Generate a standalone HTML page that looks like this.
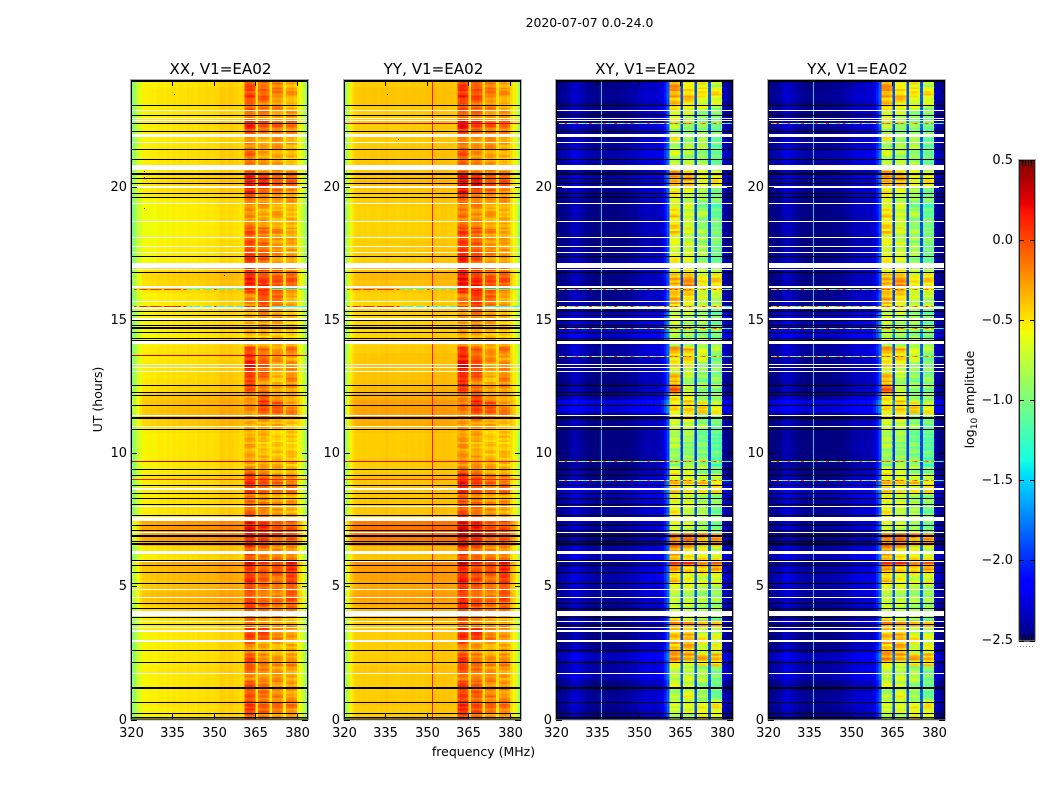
<!DOCTYPE html>
<html>
<head>
<meta charset="utf-8">
<title>2020-07-07 amplitude waterfall</title>
<style>
html,body{margin:0;padding:0;background:#fff;}
body{width:1050px;height:800px;overflow:hidden;position:relative;}
svg{position:absolute;left:0;top:0;}
text{font-family:"DejaVu Sans","Liberation Sans",sans-serif;fill:#000;}
</style>
</head>
<body>
<svg id="fig" width="1050" height="800" viewBox="0 0 1050 800">
<rect x="0" y="0" width="1050" height="800" fill="#fff"/>
<text x="589.5" y="27" font-size="12.4" text-anchor="middle">2020-07-07 0.0-24.0</text>
<text x="483.5" y="756" font-size="12.5" text-anchor="middle">frequency (MHz)</text>
<text x="0" y="0" font-size="12.5" text-anchor="middle" transform="translate(102,399.5) rotate(-90)">UT (hours)</text>
<text x="0" y="0" font-size="12.5" text-anchor="middle" transform="translate(974,399.5) rotate(-90)">log<tspan font-size="9" dy="3">10</tspan><tspan dy="-3"> amplitude</tspan></text>
<g id="panels"></g>
<g id="cbar"></g>
</svg>
<script>
// ---- axis data ----
var xTicks = [320, 335, 350, 365, 380];
var yTicks = [0, 5, 10, 15, 20];
var cbarTicks = [-2.5, -2.0, -1.5, -1.0, -0.5, 0.0, 0.5];
var panelTitles = ['XX, V1=EA02', 'YY, V1=EA02', 'XY, V1=EA02', 'YX, V1=EA02'];

// ---- channel profiles: log10 amplitude, 320..383 MHz, 1 MHz per channel ----
var profileXX = [-.98,-.85,-.72,-.62,-.56,-.55,-.55,-.54,-.55,-.53,-.52,-.52,-.53,-.51,-.52,-.5,-.52,-.5,-.5,-.51,-.49,-.5,-.49,-.51,-.48,-.49,-.49,-.47,-.48,-.48,-.47,-.47,-.43,-.43,-.45,-.43,-.43,-.45,-.45,-.47,-.47,-.02,.02,.02,-.04,-.5,-.02,.02,.02,-.04,-.5,-.02,.02,.02,-.04,-.52,-.02,.02,.02,-.04,-.55,-.62,-.76,-.92];
var profileYY = [-.92,-.72,-.55,-.47,-.43,-.43,-.43,-.42,-.43,-.42,-.42,-.42,-.43,-.42,-.42,-.4,-.43,-.42,-.42,-.43,-.42,-.42,-.41,-.42,-.41,-.41,-.42,-.41,-.42,-.41,-.4,-.4,-.39,-.39,-.4,-.39,-.39,-.4,-.4,-.41,-.42,-.02,.02,.02,-.04,-.48,-.02,.02,.02,-.04,-.48,-.02,.02,.02,-.04,-.49,-.02,.02,.02,-.04,-.47,-.55,-.68,-.9];
var profileXY = [-2.45,-2.45,-2.42,-2.42,-2.38,-2.32,-2.28,-2.28,-2.32,-2.35,-2.38,-2.42,-2.42,-2.44,-2.45,-2.45,-2.45,-2.45,-2.45,-2.44,-2.44,-2.44,-2.44,-2.42,-2.42,-2.42,-2.4,-2.38,-2.38,-2.36,-2.32,-2.3,-2.3,-2.28,-2.28,-2.3,-2.28,-2.28,-2.2,-2.05,-1.85,0,.02,.02,-.05,-1.9,0,.02,.02,-.05,-1.9,0,.02,.02,-.05,-1.85,0,.02,.02,-.05,-2.3,-2.38,-2.42,-2.45];
var bandFirst = [361, 366, 371, 376];
var bandLast = [364, 369, 374, 379];

// ---- per-row values, hundredths of a dex, 0.25 h rows from 0 h upward ----
var levelXX = [0,0,2,0,0,0,0,2, 0,0,0,0,0,0,2,2, 8,14,16,14,12,14,16,20, 2,4,22,24,26,24,2,2, 2,2,2,2,2,0,0,0, 0,0,0,2,10,14,14,14, 12,6,4,3,2,2,2,2, 0,-2,0,0,0,0,0,0, 4,6,8,6,-2,-2,-2,-2, -4,-4,-4,-3,-3,-2,0,4, 6,4,2,2,2,2,0,0, 0,2,0,0,2,2,2,0];
var band1XX = [8,14,16,10,12,6,-5,4, 8,6,-12,2,15,14,-10,-4, 12,18,8,14,20,14,20,32, 8,5,26,28,30,24,8,-2, 6,-6,15,22,18,-8,-14,-18, -22,-22,-18,-16,-20,-15,-10,-12, -12,8,20,16,24,28,22,12, -22,-28,-18,-24,-22,-20,-12,-14, 14,22,25,22,6,16,14,10, 2,6,-4,-8,-12,-8,6,20, 26,22,4,-2,2,-4,-6,-8, 14,20,-2,8,2,16,10,6];
var band2XX = [-2,6,10,0,4,-2,-10,-4, 2,-6,-18,-12,14,16,-14,-10, 4,8,2,2,6,8,10,14, 2,2,18,20,24,18,4,-4, -2,-12,8,12,8,-12,-16,-20, -22,-24,-18,-20,-18,-6,16,20, 10,-2,-8,6,10,12,2,2, -20,-22,-14,-10,-8,-6,14,12, 20,22,18,10,-2,8,6,4, -2,8,-10,-14,-18,-10,-4,8, 34,22,-6,-10,-14,-14,-16,-12, 2,16,-8,2,-4,6,10,2];
var band3XX = [-14,-2,2,-4,-8,-10,-14,-14, -10,-14,-22,-18,-6,-4,-18,-16, -2,2,-2,0,4,2,8,10, -4,-8,6,8,14,10,-10,-14, -8,-20,-2,4,-4,-20,-24,-26, -28,-28,-26,-28,-20,-8,6,6, -12,-18,-22,-22,-16,-14,-14,-14, -26,-24,-18,-18,-12,-14,-2,4, 8,10,8,2,-14,-12,-12,-14, -16,-6,-18,-18,-20,-14,-14,0, 14,8,-10,-14,-16,-16,-14,-12, -6,8,-12,-8,-14,-6,-2,-8];
var band4XX = [-18,-8,-4,-10,-12,-14,-16,-18, -8,-12,-22,-18,-10,-10,-20,-18, 0,2,6,8,18,16,22,26, -8,-10,2,8,14,8,-12,-16, -10,-20,-4,2,-8,-20,-24,-26, -30,-30,-28,-28,-24,-14,-6,-12, -18,-16,-12,-4,-8,-10,-16,0, -32,-30,-28,-26,-22,-22,-18,-14, -8,6,4,-4,-20,-14,-16,-18, -22,-16,-24,-20,-22,-16,-18,-4, 10,6,-14,-20,-22,-22,-18,-16, -10,4,-16,-14,-22,-16,-14,-16];
var bandOffsetXX = [-12, -16, -14, -14];
var bandOffsetYY = [-6, -10, -12, -12];
var levelYY = [0,0,2,0,0,0,0,2, 0,0,0,0,0,0,2,2, 8,12,14,12,12,14,16,20, 2,4,24,26,28,26,2,2, 2,2,2,2,2,0,0,0, 0,0,0,2,10,14,14,14, 10,6,4,3,2,2,2,0, -2,-2,-2,-2,-2,-2,-2,-2, 2,4,6,4,0,0,0,0, -2,-2,-2,-2,-2,0,0,2, 6,2,2,2,2,2,0,0, 0,0,0,0,2,2,2,0];
var levelXY = [-4,-2,2,0,-4,-4,6,4, 2,10,-2,-6,-6,-6,-2,-4, -4,2,0,2,4,6,2,-2, 6,2,-4,-2,2,-2,6,0, 0,4,14,10,-4,-6,-10,-10, -8,-8,-10,-8,-4,-8,16,18, 2,-4,-6,-4,-4,-4,0,2, 0,14,16,10,12,-2,-4,-2, -8,-6,-4,-6,0,-2,-6,-8, -8,-4,-6,-6,-4,-6,-4,0, 0,8,-4,2,6,4,0,-4, -2,2,-6,-2,-4,0,-2,-4];
var band1XY = [-85,-75,-70,-75,-80,-70,-70,-75, -55,-30,-30,-38,-38,-45,-25,-65, -70,-75,-78,-65,-45,-55,-25,5, -35,-30,-10,-8,-75,-70,-62,-60, -60,-65,-45,-40,-55,-70,-90,-92, -90,-85,-78,-72,-72,-60,-52,-55, -50,-10,-30,-35,-65,-50,-45,-30, -85,-80,-80,-75,-70,-72,-45,-40, -40,-40,-35,-60,-65,-65,-65,-65, -65,-50,-45,-45,-55,-60,-60,-60, -35,-32,-30,-75,-78,-75,-78,-45, -88,-85,-60,-55,-40,-35,-30,-35];
var band2XY = [-85,-70,-70,-60,-75,-80,-70,-80, -65,-30,-40,-30,-35,-60,-25,-70, -80,-78,-80,-72,-65,-65,-45,-5, -50,-45,-15,-15,-80,-80,-70,-75, -70,-72,-55,-50,-65,-80,-90,-92, -95,-90,-85,-85,-75,-60,-40,-45, -60,-78,-80,-80,-70,-60,-50,-40, -90,-85,-85,-80,-80,-78,-60,-50, -40,-25,-30,-55,-72,-72,-72,-72, -80,-60,-70,-72,-75,-78,-72,-62, -35,-28,-50,-78,-85,-85,-85,-85, -95,-90,-80,-70,-55,-45,-45,-55];
var band3XY = [-55,-60,-70,-85,-85,-90,-85,-90, -60,-35,-70,-60,-60,-75,-35,-80, -85,-85,-85,-80,-60,-70,-50,-25, -55,-60,-30,-25,-85,-85,-80,-85, -82,-85,-55,-45,-70,-90,-100,-100, -100,-100,-100,-100,-95,-90,-45,-60, -90,-95,-95,-90,-90,-85,-80,-70, -95,-90,-90,-90,-85,-85,-80,-70, -70,-55,-60,-75,-88,-90,-90,-90, -90,-85,-90,-90,-90,-95,-90,-85, -60,-55,-70,-85,-90,-90,-90,-90, -95,-95,-90,-85,-70,-50,-55,-60];
var band4XY = [-70,-60,-65,-100,-100,-105,-95,-100, -55,-35,-65,-60,-60,-80,-40,-90, -90,-95,-95,-90,-55,-70,-35,-15, -65,-75,-35,-30,-100,-100,-95,-100, -95,-95,-60,-50,-70,-100,-115,-115, -115,-110,-115,-110,-100,-90,-60,-70, -90,-100,-95,-90,-95,-100,-100,-80, -105,-100,-100,-100,-100,-100,-85,-70, -65,-50,-55,-80,-105,-105,-105,-105, -105,-95,-105,-105,-105,-110,-105,-95, -55,-50,-80,-100,-105,-105,-105,-105, -110,-105,-105,-95,-65,-55,-60,-70];
// fine horizontal streaks seen inside the four bands, hundredths of a dex
var bandStreak = [6,-8,3,-5,9,-3,1,-10,7,-2,5,-7,10,-4,-9,4,-1,8,-6,2,-11,6,3,-4,9,-8,0,5,-6,11,-3,-7,4,-1,8,-10,2,6,-5,-2,9,-9,3,7,-6,1,-4,10];

// ---- flagged integrations: hour and duration ----
var blackHours = [23.97,23.05,22.67,22.37,22.07,21.39,21.02,20.47,20.31,20.12,19.74,19.59,17.38,16.78,15.32,15.17,14.96,14.79,14.69,14.54,14.29,14.24,12.54,12.28,12.16,11.79,11.42,11.32,10.89,9.39,9.16,8.79,8.49,8.3,8.06,7.65,7.29,7.08,6.92,6.85,6.67,6.58,5.95,5.76,5.5,5.12,4.37,4.18,3.81,3.58,2.57,2.12,1.18,.62,.21,.06];
var blackSpans = [.07,.04,.04,.04,.04,.04,.04,.08,.04,.04,.04,.04,.04,.04,.04,.04,.04,.04,.06,.04,.04,.04,.04,.04,.04,.04,.04,.07,.04,.04,.04,.04,.04,.04,.04,.04,.04,.04,.04,.04,.04,.08,.04,.04,.04,.04,.04,.04,.04,.04,.04,.04,.08,.04,.04,.04];
var whiteHours = [22.86,22.57,22.49,21.9,21.66,20.73,19.99,19.37,18.69,18.09,17.75,17.53,17.02,16.87,16.23,15.68,15.45,15.06,15.02,14.15,13.33,13.21,13.06,11.39,10.99,8.64,8,7.51,7,6.25,5.91,4.86,4.56,3.96,3.66,3.47,3.32,2.98,2.91,1.74];
var whiteSpans = [.04,.04,.04,.11,.04,.19,.07,.04,.04,.04,.04,.04,.19,.04,.07,.04,.07,.04,.04,.11,.04,.04,.04,.04,.05,.07,.05,.15,.04,.11,.04,.04,.04,.19,.04,.04,.07,.04,.04,.04];

// ---- narrow spectral and temporal interference ----
var lineFreqYY = 351.9;
var lineValueYY = 0.15;
var lineFreqCross = 336.1;
var lineValueCross = -1.5;
var spikeHoursXX = [9.7, 9.0, 13.66];
var spikeValuesXX = [.3, .15, .3];
var spikeHoursYY = [22.37, 9.7, 9.0];
var spikeValuesYY = [.3, .2, .15];
var mixedHoursCo = [15.5, 16.15];
var mixedValuesCo = [.1,.12,-.4,.1,.15,.05,-.2,.1,.12,.1,.05,-.3,.12,.1,.05,.1,.12,.1,-.4,.1,-1.3,-1.35,-.9,-1.3,-1.35,-.6,-1.3,-1.35,-1.3,-.9,.1,-1.3,-1.35,-1.3,-1.0,-1.35,-1.3,-.5,-1.3,-1.35,-1.3,.1,.1,0,.1,-.7,.1,0,.1,.1,-1.0,-1.3,-1.35,-1.3,-1.3,-1.35,-1.3,-1.35,-1.3,-1.3,-1.0,-1.3,-1.35,-1.3];
var spikeHoursCross = [22.37, 16.15, 15.5, 14.7, 13.66, 9.7, 9.0];
var spikeValuesCross = [-.9,-.3,-.7,.1,-.8,-1.3,-.4,0,-1,-.5,-1.4,-.8,.05,-.6,-1.2,-.3,-1,-.1,-.8,-1.4,-.5,.1,-1.1,-.7,-1.3,-.2,-.9,.1,-1.2,-.6,-1.4,-.4,-.9,0,-.7,-1.2,-.3,-1,-.6,.05,-.8,0,-.2,.1,-.3,-.9,.1,-.2,.05,-.4,-1,-.5,-.3,.05,-.6,-1,-.3,.05,-.5,-.2,-.9,-1.3,-1.1,-1.5];
var dotFreqs = [335.5, 324.8, 324.8, 324.8, 324.8, 353.6, 339.6, 339.6, 335.6];
var dotHours = [23.46, 20.58, 20.37, 20.12, 19.2, 16.67, 21.8, 21.4, 23.46];
var dotPanels = [0, 0, 0, 0, 0, 0, 1, 1, 1];

// ---- figure scales ----
var panelLefts = [131, 344, 556, 768];
var panelWidth = 177;
var plotTop = 80;
var plotBottom = 719.5;
var freqMin = 320, freqMax = 384, hourMax = 24;
var vMin = -2.5, vMax = 0.5;
var SVGNS = 'http://www.w3.org/2000/svg';

function xScale(left, f) { return left + (f - freqMin) / (freqMax - freqMin) * panelWidth; }
function yScale(h) { return plotBottom - h / hourMax * (plotBottom - plotTop); }

function interp(pts, t) {
  for (var i = 1; i < pts.length; i++) {
    if (t <= pts[i][0]) {
      var a = pts[i - 1], b = pts[i];
      return a[1] + (b[1] - a[1]) * (t - a[0]) / (b[0] - a[0]);
    }
  }
  return pts[pts.length - 1][1];
}
var rPts = [[0,0],[.35,0],[.66,1],[.89,1],[1,.5]];
var gPts = [[0,0],[.125,0],[.375,1],[.64,1],[.91,0],[1,0]];
var bPts = [[0,.5],[.11,1],[.34,1],[.65,0],[1,0]];
function jet(v) {
  var t = Math.max(0, Math.min(1, (v - vMin) / (vMax - vMin)));
  return 'rgb(' + Math.round(255 * interp(rPts, t)) + ',' + Math.round(255 * interp(gPts, t)) + ',' + Math.round(255 * interp(bPts, t)) + ')';
}
function mk(tag, parent) {
  var e = document.createElementNS(SVGNS, tag);
  parent.appendChild(e);
  return e;
}
function box(parent, x, y, w, h, fill) {
  var r = mk('rect', parent);
  r.setAttribute('x', x);
  r.setAttribute('y', y);
  r.setAttribute('width', w);
  r.setAttribute('height', h);
  r.setAttribute('fill', fill);
  r.setAttribute('shape-rendering', 'crispEdges');
  return r;
}
function label(parent, x, y, str, size, anchor) {
  var t = mk('text', parent);
  t.setAttribute('x', x);
  t.setAttribute('y', y);
  t.setAttribute('font-size', size);
  t.setAttribute('text-anchor', anchor);
  t.textContent = str;
  return t;
}

var bandsXX = [band1XX, band2XX, band3XX, band4XX];
var bandsXY = [band1XY, band2XY, band3XY, band4XY];
function bandIndex(freq) {
  for (var k = 0; k < bandFirst.length; k++) {
    if (freq >= bandFirst[k] && freq <= bandLast[k]) return k;
  }
  return -1;
}
function cellValue(p, ch, row) {
  var k = bandIndex(freqMin + ch);
  if (p === 0) return k >= 0 ? (bandsXX[k][row] + bandOffsetXX[k]) / 100 + profileXX[ch] : profileXX[ch] + levelXX[row] / 100;
  if (p === 1) return k >= 0 ? (bandsXX[k][row] + bandOffsetYY[k]) / 100 + profileYY[ch] : profileYY[ch] + levelYY[row] / 100;
  return k >= 0 ? bandsXY[k][row] / 100 + profileXY[ch] : profileXY[ch] + levelXY[row] / 100;
}

var panelsG = document.getElementById('panels');
var rowCount = levelXX.length;
var rowSpan = hourMax / rowCount;
var subRows = 3;

function hLine(parent, left, hour, span, fill) {
  var y0 = Math.round(yScale(hour + span / 2));
  var hgt = Math.max(1, Math.round(span * (plotBottom - plotTop) / hourMax));
  return box(parent, left + 1, y0, panelWidth - 1, hgt, fill);
}

panelLefts.forEach(function (left, p) {
  var g = mk('g', panelsG);
  
  

  // heatmap cells
  for (var row = 0; row < rowCount; row++) {
    var yA = Math.round(yScale((row + 1) * rowSpan));
    var yB = Math.round(yScale(row * rowSpan));
    for (var ch = 0; ch < profileXX.length; ch++) {
      var xA = xScale(left, freqMin + ch);
      var xB = xScale(left, freqMin + ch + 1);
      var base = cellValue(p, ch, row);
      var cell = box(g, xA.toFixed(2), yA, (xB - xA + 0.4).toFixed(2), yB - yA, jet(base));
      
      
      var k = bandIndex(freqMin + ch);
      if (k >= 0) {
        var subH = (yB - yA) / subRows;
        for (var sub = 0; sub < subRows; sub++) {
          var s0 = bandStreak[(row * subRows + sub + k * 7) % bandStreak.length] / 100 * (p < 2 ? 1 : 1.6);
          var fine = box(g, xA.toFixed(2), (yA + sub * subH).toFixed(2), (xB - xA + 0.4).toFixed(2), (subH + 0.4).toFixed(2), jet(base + s0));
          
          
        }
      }
    }
  }

  // narrow frequency line
  var lineF = p === 1 ? lineFreqYY : lineFreqCross;
  var lineV = p === 1 ? lineValueYY : lineValueCross;
  if (p >= 1) {
    var vl = box(g, Math.round(xScale(left, lineF)), plotTop, 1, plotBottom - plotTop, jet(lineV));
    
    
  }

  // isolated bad samples
  dotFreqs.forEach(function (f, i) {
    if (dotPanels[i] !== p) return;
    var d = box(g, Math.round(xScale(left, f)), Math.round(yScale(dotHours[i])), 1, 1, '#c00000');
    
    
  });

  // flagged rows
  blackHours.forEach(function (h, i) {
    var r = hLine(g, left, h, blackSpans[i], '#000');
    
    
  });
  whiteHours.forEach(function (h, i) {
    var r = hLine(g, left, h, whiteSpans[i], '#fff');
    
    
  });

  // time-domain interference rows
  var flatHours = p === 0 ? spikeHoursXX : (p === 1 ? spikeHoursYY : []);
  var flatVals = p === 0 ? spikeValuesXX : spikeValuesYY;
  flatHours.forEach(function (h, i) {
    var r = hLine(g, left, h, .04, jet(flatVals[i]));
    
    
  });
  var mixHours = p < 2 ? mixedHoursCo : spikeHoursCross;
  var mixVals = p < 2 ? mixedValuesCo : spikeValuesCross;
  mixHours.forEach(function (h) {
    var yy = Math.round(yScale(h));
    for (var c = 1; c < mixVals.length; c++) {
      var xa = xScale(left, freqMin + c);
      var s = box(g, xa.toFixed(2), yy, ((panelWidth / mixVals.length) + 0.4).toFixed(2), 1, jet(mixVals[c]));
      
      
    }
  });

  // frame
  var frameOuter = mk('rect', g);
  frameOuter.setAttribute('x', left - 0.5);
  frameOuter.setAttribute('y', plotTop - 0.5);
  frameOuter.setAttribute('width', panelWidth + 1);
  frameOuter.setAttribute('height', plotBottom - plotTop + 1);
  frameOuter.setAttribute('fill', 'none');
  frameOuter.setAttribute('stroke', '#aaa');
  frameOuter.setAttribute('stroke-width', '1');
  
  
  var frameInner = mk('rect', g);
  frameInner.setAttribute('x', left + 0.5);
  frameInner.setAttribute('y', plotTop + 0.5);
  frameInner.setAttribute('width', panelWidth - 1);
  frameInner.setAttribute('height', plotBottom - plotTop - 1);
  frameInner.setAttribute('fill', 'none');
  frameInner.setAttribute('stroke', '#000');
  frameInner.setAttribute('stroke-width', '1');
  
  

  // x ticks
  xTicks.forEach(function (f) {
    var x = Math.round(xScale(left, f));
    var t1 = box(g, x, plotBottom - 6, 1, 6, '#000');
    
    
    var t2 = box(g, x, plotTop, 1, 6, '#000');
    
    
    var tl = label(g, x + 0.5, 737, String(f), 13, 'middle');
    
    
  });

  // y ticks
  yTicks.forEach(function (h) {
    var y = Math.round(yScale(h));
    var t1 = box(g, left, y, 6, 1, '#000');
    
    
    var t2 = box(g, left + panelWidth - 6, y, 6, 1, '#000');
    
    
    var tl = label(g, left - 4, y + 4, String(h), 13, 'end');
    
    
  });

  var pt = label(g, left + panelWidth / 2 + 1, 74, panelTitles[p], 15.1, 'middle');
  
  
});

// ---- colorbar ----
var cb = document.getElementById('cbar');
var cbLeft = 1019, cbRight = 1035, cbTop = 160, cbBottom = 640.5;
function cbY(v) { return cbBottom - (v - vMin) / (vMax - vMin) * (cbBottom - cbTop); }
for (var py = cbTop; py < cbBottom; py += 2) {
  var swatch = box(cb, cbLeft, py, cbRight - cbLeft, 2, jet(vMin + (cbBottom - py - 1) / (cbBottom - cbTop) * (vMax - vMin)));
  
  
}
var cbFrame = mk('rect', cb);
cbFrame.setAttribute('x', cbLeft + 0.5);
cbFrame.setAttribute('y', cbTop + 0.5);
cbFrame.setAttribute('width', cbRight - cbLeft - 1);
cbFrame.setAttribute('height', cbBottom - cbTop - 1);
cbFrame.setAttribute('fill', 'none');
cbFrame.setAttribute('stroke', '#222');


var cbOuter = mk('rect', cb);
cbOuter.setAttribute('x', cbLeft - 0.5);
cbOuter.setAttribute('y', cbTop - 0.5);
cbOuter.setAttribute('width', cbRight - cbLeft + 1);
cbOuter.setAttribute('height', cbBottom - cbTop + 1);
cbOuter.setAttribute('fill', 'none');
cbOuter.setAttribute('stroke', '#aaa');


cbarTicks.forEach(function (v) {
  var y = Math.round(cbY(v));
  var a = box(cb, cbLeft, y, 5, 1, '#000');
  
  
  var b = box(cb, cbRight - 5, y, 5, 1, '#000');
  
  
  var lab = label(cb, 1013, (v === 0.5 ? 164 : (v === -2.5 ? 644 : y + 4)), v.toFixed(1).replace('-', '\u2212'), 13, 'end');
  
  
});
for (var tx = cbLeft + 3; tx < cbRight - 1; tx += 3) {
  var minorTop = box(cb, tx, cbTop, 1, 6, '#000');
  
  
  var minorBottom = box(cb, tx, cbBottom - 6, 1, 6, '#000');
  
  
}
for (var dx = 1017; dx < 1035; dx += 3) {
  var dotMark = box(cb, dx, 646, 1, 1, '#999');
  
  
}
</script>
</body>
</html>
